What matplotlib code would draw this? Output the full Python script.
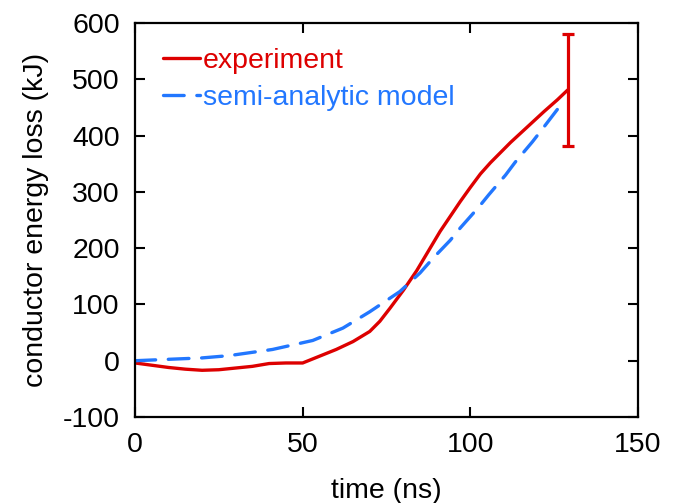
import matplotlib
matplotlib.use("Agg")
import matplotlib.pyplot as plt

plt.rcParams['font.family'] = ['Liberation Sans', 'DejaVu Sans']
plt.rcParams['axes.unicode_minus'] = False

# experiment (red)
exp_t = [0, 5, 10, 15, 20, 25, 30, 35, 40, 45, 50, 55, 60, 65, 70, 73, 76, 80, 84, 88, 91, 97, 100, 103, 106, 109, 112, 118, 122, 126, 129]
exp_e = [-4, -8, -12, -15, -17, -16, -13, -10, -5, -4, -4, 8, 20, 34, 52, 70, 93, 125, 160, 200, 230, 283, 308, 332, 352, 370, 388, 421, 443, 464, 481]

# semi-analytic model (blue dashed)
mod_t = [0, 8, 20, 28, 41, 53, 62, 70, 79, 85, 89, 94, 97, 102.5, 105.5, 110.5, 113.4, 118.5, 121.5, 126, 127.5]
mod_e = [0, 2, 5, 9, 20, 36, 58, 87, 123, 156, 183, 214, 236, 273, 295, 330, 353, 389, 412, 447, 457]

# error bar at end of experiment
err_t = [129]
err_e = [481]
err_size = [100]

x_ticks = [0, 50, 100, 150]
y_ticks = [-100, 0, 100, 200, 300, 400, 500, 600]

red = '#DD0000'
blue = '#2277FF'
fs = 20.5

fig = plt.figure(figsize=(6.77, 5.03), dpi=100)
ax = fig.add_axes([0.1994, 0.171, 0.743, 0.783])

ax.plot(exp_t, exp_e, color=red, lw=2.4, label='experiment', solid_capstyle='round')
ax.plot(mod_t, mod_e, color=blue, lw=2.4, dashes=(6.2, 3.8), label='semi-analytic model',
        dash_capstyle='round')
ax.errorbar(err_t, err_e, yerr=err_size, fmt='none', ecolor=red, elinewidth=2.3,
            capsize=4.5, capthick=2.3)

ax.set_xlim(0, 150)
ax.set_ylim(-100, 600)
ax.set_xticks(x_ticks)
ax.set_yticks(y_ticks)
ax.tick_params(direction='in', length=7, width=1.5, top=True, right=True,
               labelsize=fs)
ax.tick_params(axis='y', pad=11)
ax.tick_params(axis='x', pad=11)
for s in ax.spines.values():
    s.set_linewidth(1.6)

ax.set_xlabel('time (ns)', fontsize=fs, labelpad=14)
ax.set_ylabel('conductor energy loss (kJ)', fontsize=fs, labelpad=10)

leg = ax.legend(loc='upper left', frameon=False, fontsize=fs, handlelength=1.3,
                handletextpad=0.1, labelspacing=0.38, borderaxespad=0.2,
                bbox_to_anchor=(0.022, 0.98))
for txt, c in zip(leg.get_texts(), [red, blue]):
    txt.set_color(c)

fig.savefig('out.png', dpi=100)
